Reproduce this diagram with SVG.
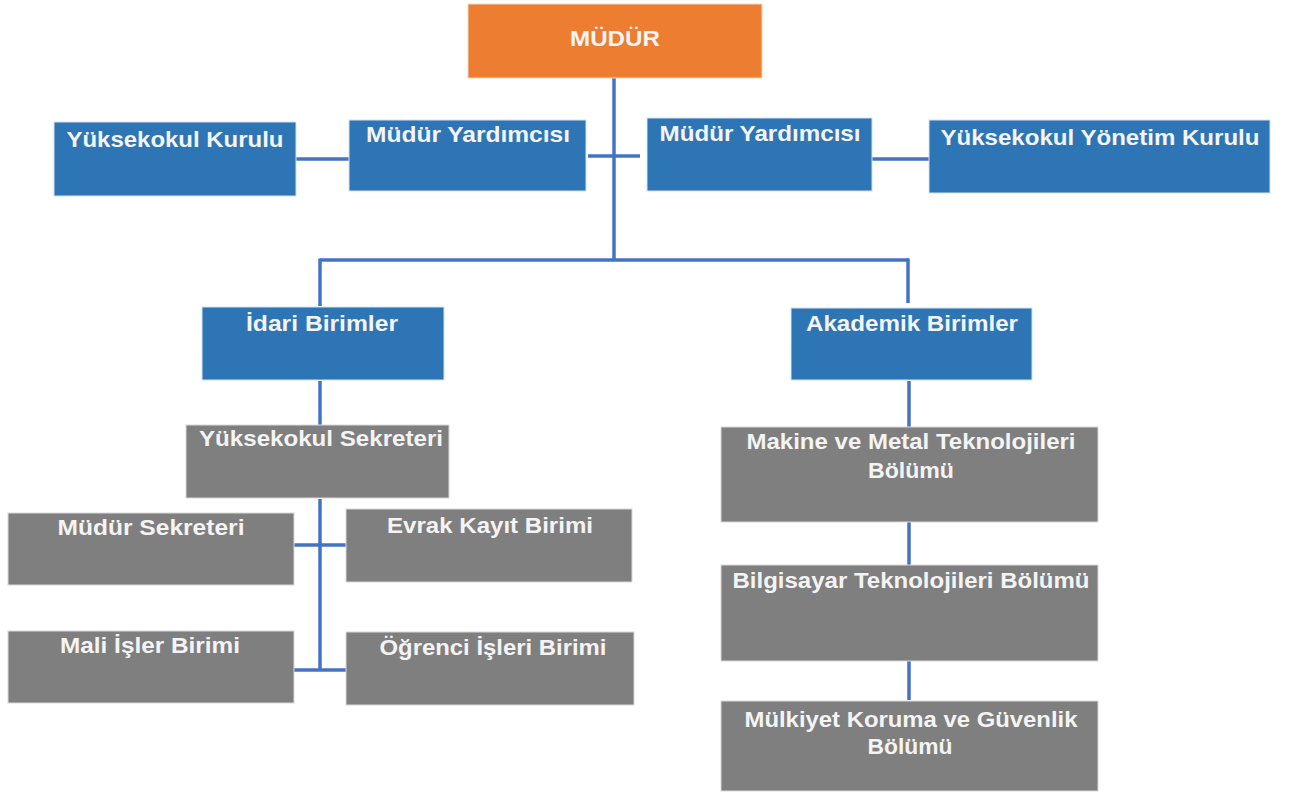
<svg xmlns="http://www.w3.org/2000/svg" width="1293" height="794" viewBox="0 0 1293 794">
<style>
.b{fill:#2E75B6;stroke:#D6E2F0;stroke-width:1}
.o{fill:#ED7D31;stroke:#F8D5BC;stroke-width:1}
.g{fill:#7F7F7F;stroke:#DADADA;stroke-width:1}
text{font-family:"Liberation Sans",Arial,sans-serif;font-weight:bold;font-size:22px;fill:#F4F4F4;text-anchor:middle}
.c line{stroke:#4472C4;stroke-width:3.5}
</style>
<rect width="1293" height="794" fill="#FFFFFF"/>
<g class="c" id="connectors">
<line x1="614" y1="78" x2="614" y2="261"/>
<line x1="588" y1="156" x2="640" y2="156"/>
<line x1="296" y1="159" x2="349" y2="159"/>
<line x1="872" y1="159" x2="929" y2="159"/>
<line x1="320" y1="260" x2="909" y2="260"/>
<line x1="320" y1="258.5" x2="320" y2="306"/>
<line x1="908" y1="258.5" x2="908" y2="303"/>
<line x1="320" y1="381" x2="320" y2="425"/>
<line x1="320" y1="499" x2="320" y2="671"/>
<line x1="294" y1="545" x2="346" y2="545"/>
<line x1="294" y1="670" x2="346" y2="670"/>
<line x1="909" y1="381" x2="909" y2="427"/>
<line x1="909" y1="522" x2="909" y2="565"/>
<line x1="909" y1="661" x2="909" y2="700"/>
</g>
<g id="mudur"><rect class="o" x="468" y="4" width="294" height="74"/><text x="615" y="46" textLength="90" lengthAdjust="spacingAndGlyphs">MÜDÜR</text></g>
<g id="yuksekokul-kurulu"><rect class="b" x="54" y="122" width="242" height="74"/><text x="175" y="147" textLength="217" lengthAdjust="spacingAndGlyphs">Yüksekokul Kurulu</text></g>
<g id="mudur-yard-1"><rect class="b" x="349" y="120" width="237" height="71"/><text x="468" y="142" textLength="204" lengthAdjust="spacingAndGlyphs">Müdür Yardımcısı</text></g>
<g id="mudur-yard-2"><rect class="b" x="647" y="118" width="225" height="73"/><text x="760" y="141" textLength="201" lengthAdjust="spacingAndGlyphs">Müdür Yardımcısı</text></g>
<g id="yonetim-kurulu"><rect class="b" x="929" y="120" width="341" height="73"/><text x="1100" y="145" textLength="319" lengthAdjust="spacingAndGlyphs">Yüksekokul Yönetim Kurulu</text></g>
<g id="idari"><rect class="b" x="202" y="307" width="242" height="73"/><text x="322" y="331" textLength="152" lengthAdjust="spacingAndGlyphs">İdari Birimler</text></g>
<g id="akademik"><rect class="b" x="791" y="308" width="241" height="72"/><text x="912" y="331" textLength="212" lengthAdjust="spacingAndGlyphs">Akademik Birimler</text></g>
<g id="sekreter"><rect class="g" x="186" y="425" width="263" height="73"/><text x="321" y="446" textLength="244" lengthAdjust="spacingAndGlyphs">Yüksekokul Sekreteri</text></g>
<g id="mudur-sekreteri"><rect class="g" x="8" y="513" width="286" height="72"/><text x="151" y="535" textLength="187" lengthAdjust="spacingAndGlyphs">Müdür  Sekreteri</text></g>
<g id="evrak"><rect class="g" x="346" y="509" width="286" height="73"/><text x="490" y="533" textLength="206" lengthAdjust="spacingAndGlyphs">Evrak Kayıt Birimi</text></g>
<g id="mali"><rect class="g" x="8" y="631" width="286" height="72"/><text x="150" y="653" textLength="180" lengthAdjust="spacingAndGlyphs">Mali İşler Birimi</text></g>
<g id="ogrenci"><rect class="g" x="346" y="632" width="288" height="73"/><text x="493" y="655" textLength="227" lengthAdjust="spacingAndGlyphs">Öğrenci İşleri Birimi</text></g>
<g id="makine"><rect class="g" x="721" y="427" width="377" height="95"/><text x="911" y="449" textLength="329" lengthAdjust="spacingAndGlyphs">Makine ve Metal Teknolojileri</text><text x="911" y="478" textLength="86" lengthAdjust="spacingAndGlyphs">Bölümü</text></g>
<g id="bilgisayar"><rect class="g" x="721" y="565" width="377" height="96"/><text x="911" y="588" textLength="357" lengthAdjust="spacingAndGlyphs">Bilgisayar Teknolojileri  Bölümü</text></g>
<g id="mulkiyet"><rect class="g" x="721" y="701" width="377" height="90"/><text x="911" y="727" textLength="333" lengthAdjust="spacingAndGlyphs">Mülkiyet Koruma ve Güvenlik</text><text x="910" y="754" textLength="85" lengthAdjust="spacingAndGlyphs">Bölümü</text></g>
</svg>
